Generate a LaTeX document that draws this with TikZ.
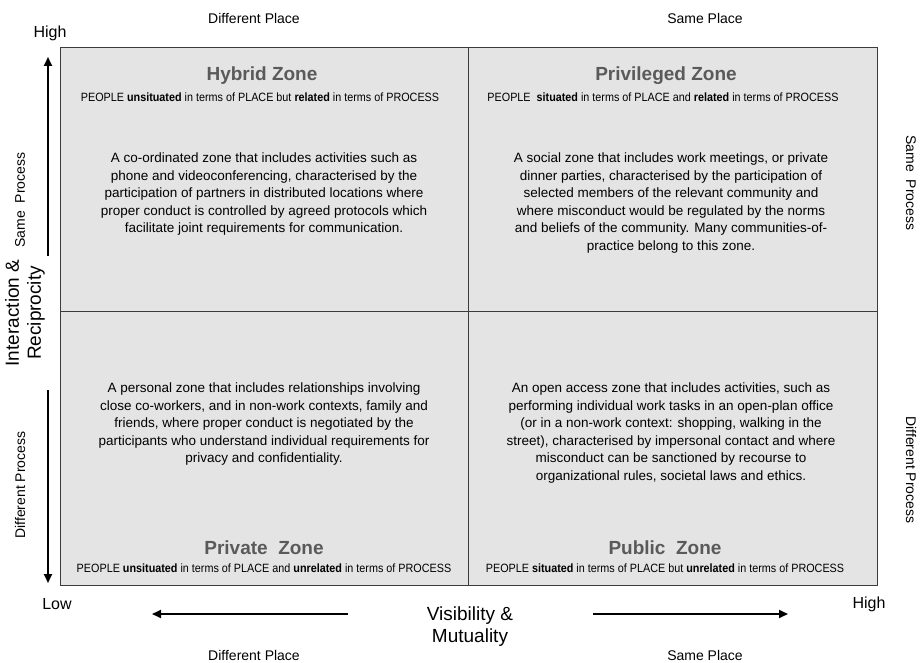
\documentclass[tikz,border=0pt]{standalone}
\usepackage{fontspec}
\setmainfont{Liberation Sans}
\newfontfamily\narrowsans[FakeStretch=0.9]{Liberation Sans}
\usetikzlibrary{arrows.meta}
\definecolor{zonefill}{RGB}{228,228,228}
\definecolor{zoneline}{RGB}{60,60,60}
\definecolor{zonetitle}{RGB}{90,90,90}
\begin{document}
\begin{tikzpicture}[x=1pt,y=-1pt,
  quad/.style={draw=zoneline,line width=1.1pt,fill=zonefill,anchor=north west,inner sep=0pt},
  zonename/.style={font=\bfseries\fontsize{19}{22}\selectfont,text=zonetitle,inner sep=0pt},
  zonesub/.style={font=\narrowsans\fontsize{12}{14}\selectfont,inner sep=0pt},
  zonebody/.style={font=\fontsize{13.5}{17.5}\selectfont,align=center,anchor=north,inner sep=0pt},
  axislabel/.style={font=\fontsize{14}{17}\selectfont,inner sep=0pt},
  endlabel/.style={font=\fontsize{16}{19}\selectfont,inner sep=0pt},
  axistitle/.style={font=\fontsize{19}{22}\selectfont,align=center,inner sep=0pt},
  axisarrow/.style={line width=1.8pt,-{Triangle[length=9pt,width=8pt]}}]
\useasboundingbox (0,0) rectangle (924,663);

% the four zones
\node[quad,minimum width=408pt,minimum height=264pt] (hybrid) at (60,47) {};
\node[quad,minimum width=409pt,minimum height=264pt] (privileged) at (468,47) {};
\node[quad,minimum width=408pt,minimum height=274pt] (private) at (60,311) {};
\node[quad,minimum width=409pt,minimum height=274pt] (public) at (468,311) {};

% zone names and descriptions
\node[zonename] (hybridname) at (262,76) {Hybrid Zone};
\node[zonesub] (hybridsub) at (260,97) {PEOPLE \textbf{unsituated} in terms of PLACE but \textbf{related} in terms of PROCESS};
\node[zonebody] (hybridtext) at (264,153) {A co-ordinated zone that includes activities such as\\
phone and videoconferencing, characterised by the\\
participation of partners in distributed locations where\\
proper conduct is controlled by agreed protocols which\\
facilitate joint requirements for communication.};

\node[zonename] (privname) at (666,76) {Privileged Zone};
\node[zonesub] (privsub) at (663,97) {PEOPLE\ \ \textbf{situated} in terms of PLACE and \textbf{related} in terms of PROCESS};
\node[zonebody] (privtext) at (671,153) {A social zone that includes work meetings, or private\\
dinner parties, characterised by the participation of\\
selected members of the relevant community and\\
where misconduct would be regulated by the norms\\
and beliefs of the community. Many communities-of-\\
practice belong to this zone.};

\node[zonebody] (privatetext) at (264,383) {A personal zone that includes relationships involving\\
close co-workers, and in non-work contexts, family and\\
friends, where proper conduct is negotiated by the\\
participants who understand individual requirements for\\
privacy and confidentiality.};
\node[zonename] (privatename) at (264,548) {Private\ \ Zone};
\node[zonesub] (privatesub) at (264,568) {PEOPLE \textbf{unsituated} in terms of PLACE and \textbf{unrelated} in terms of PROCESS};

\node[zonebody] (publictext) at (671,383) {An open access zone that includes activities, such as\\
performing individual work tasks in an open-plan office\\
(or in a non-work context: shopping, walking in the\\
street), characterised by impersonal contact and where\\
misconduct can be sanctioned by recourse to\\
organizational rules, societal laws and ethics.};
\node[zonename] (publicname) at (665,548) {Public\ \ Zone};
\node[zonesub] (publicsub) at (665,568) {PEOPLE \textbf{situated} in terms of PLACE but \textbf{unrelated} in terms of PROCESS};

% place labels along the top and bottom
\node[axislabel] (topdiff) at (254,18) {Different Place};
\node[axislabel] (topsame) at (705,18) {Same Place};
\node[axislabel] (botdiff) at (254,655) {Different Place};
\node[axislabel] (botsame) at (705,655) {Same Place};

% process labels along the sides
\node[axislabel,rotate=90] (leftsame) at (20,200) {Same\ \ Process};
\node[axislabel,rotate=90] (leftdiff) at (20,485) {Different Process};
\node[axislabel,rotate=-90] (rightsame) at (911,183) {Same\ \ Process};
\node[axislabel,rotate=-90] (rightdiff) at (911,470) {Different Process};

% axis ends
\node[endlabel] (yhigh) at (50,33) {High};
\node[endlabel] (xlow) at (57,604) {Low};
\node[endlabel] (xhigh) at (869,604) {High};

% axis titles
\node[axistitle,rotate=90] (ytitle) at (25,313) {Interaction \&\\Reciprocity};
\node[axistitle] (xtitle) at (470,627) {Visibility \&\\Mutuality};

% axis arrows
\coordinate (upfrom) at (48,256);
\coordinate (upto) at (48,57);
\coordinate (downfrom) at (48,390);
\coordinate (downto) at (48,583);
\coordinate (leftfrom) at (348,614);
\coordinate (leftto) at (152,614);
\coordinate (rightfrom) at (593,614);
\coordinate (rightto) at (788,614);
\draw[axisarrow] (upfrom) -- (upto);
\draw[axisarrow] (downfrom) -- (downto);
\draw[axisarrow] (leftfrom) -- (leftto);
\draw[axisarrow] (rightfrom) -- (rightto);
\end{tikzpicture}
\end{document}
